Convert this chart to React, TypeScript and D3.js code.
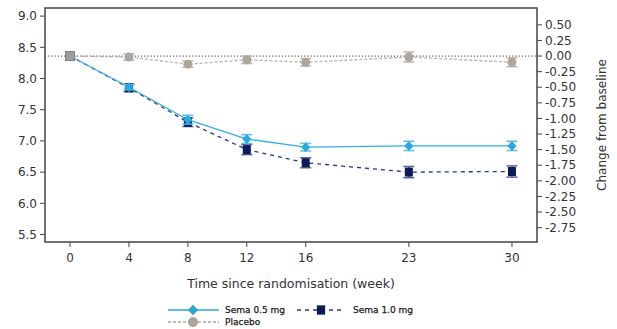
import React from 'react'
import * as d3 from 'd3'

// Weeks since randomisation
const weeks = [0, 4, 8, 12, 16, 23, 30]
// HbA1c (%) per arm
const sema05 = [8.36, 7.86, 7.34, 7.03, 6.90, 6.92, 6.92]
const sema05Err = [0, 0.04, 0.07, 0.07, 0.06, 0.075, 0.075]
const sema10 = [8.36, 7.85, 7.30, 6.86, 6.65, 6.50, 6.51]
const sema10Err = [0, 0.06, 0.07, 0.08, 0.08, 0.09, 0.09]
const placebo = [8.36, 8.345, 8.23, 8.30, 8.26, 8.345, 8.26]
const placeboErr = [0, 0.05, 0.05, 0.06, 0.06, 0.08, 0.07]
const baseline = 8.36

const leftTicks = [5.5, 6.0, 6.5, 7.0, 7.5, 8.0, 8.5, 9.0]
const rightTicks = [0.5, 0.25, 0, -0.25, -0.5, -0.75, -1.0, -1.25, -1.5, -1.75, -2.0, -2.25, -2.5, -2.75]

const W = 617
const H = 329
const margin = { top: 8, right: 80, bottom: 87, left: 45 }
const font = 'DejaVu Sans, Verdana, sans-serif'
const axisColor = '#444'

const CYAN = '#27a9e1'
const NAVY = '#0b1b5a'
const GREY = '#aca69f'

type Series = {
  name: string; vals: number[]; err: number[]
  color: string; lineColor: string; errColor: string; dash: string; marker: string
}

const series: Series[] = [
  { name: 'Placebo', vals: placebo, err: placeboErr, color: GREY, lineColor: '#b8b3ad', errColor: '#bbb6b0', dash: '3,2', marker: 'circle' },
  { name: 'Sema 1.0 mg', vals: sema10, err: sema10Err, color: NAVY, lineColor: '#27397a', errColor: '#56659a', dash: '4,4', marker: 'square' },
  { name: 'Sema 0.5 mg', vals: sema05, err: sema05Err, color: CYAN, lineColor: '#35ade3', errColor: '#5cc0ec', dash: '', marker: 'diamond' },
]

const Marker = ({ type, x, y, color }: { type: string; x: number; y: number; color: string }) => {
  if (type === 'square') return <rect x={x - 4} y={y - 4.5} width={8} height={9} fill={color} />
  if (type === 'circle') return <circle cx={x} cy={y} r={4.5} fill={color} />
  return <path d={`M${x},${y - 5}L${x + 4.5},${y}L${x},${y + 5}L${x - 4.5},${y}Z`} fill={color} />
}

const App = () => {
  const x0 = margin.left
  const x1 = W - margin.right
  const y0 = margin.top
  const y1 = H - margin.bottom

  const x = d3.scaleLinear().domain([-1.7, 31.7]).range([x0, x1])
  const y = d3.scaleLinear().domain([5.38, 9.13]).range([y1, y0])

  const line = d3.line<number>()
    .x((_, i) => x(weeks[i]))
    .y((d) => y(d))

  return (
    <svg width={W} height={H} style={{ display: 'block', position: 'absolute', left: 0, top: 0 }}>
      <rect width={W} height={H} fill="#fff" />

      {/* baseline */}
      <line x1={x0} x2={x1} y1={y(baseline)} y2={y(baseline)} stroke="#666" strokeWidth={1.2} strokeDasharray="1.2,2" />

      {/* series */}
      {series.map((s) => (
        <g key={s.name}>
          <path d={line(s.vals) || ''} fill="none" stroke={s.lineColor} strokeWidth={1.3} strokeDasharray={s.dash} />
          {s.vals.map((v, i) => (
            <g key={i}>
              {s.err[i] > 0 && (
                <g stroke={s.errColor} strokeWidth={1.5}>
                  <line x1={x(weeks[i])} x2={x(weeks[i])} y1={y(v - s.err[i])} y2={y(v + s.err[i])} />
                  <line x1={x(weeks[i]) - 5.5} x2={x(weeks[i]) + 5.5} y1={y(v - s.err[i])} y2={y(v - s.err[i])} />
                  <line x1={x(weeks[i]) - 5.5} x2={x(weeks[i]) + 5.5} y1={y(v + s.err[i])} y2={y(v + s.err[i])} />
                </g>
              )}
              <Marker type={s.marker} x={x(weeks[i])} y={y(v)} color={s.color} />
            </g>
          ))}
        </g>
      ))}

      {/* shared baseline point, drawn grey over the stacked markers */}
      <rect x={x(weeks[0]) - 4.5} y={y(baseline) - 4.5} width={9} height={9} fill="#a09c9a" stroke="#7d7f8e" strokeWidth={1} />

      {/* frame */}
      <rect x={x0} y={y0} width={x1 - x0} height={y1 - y0} fill="none" stroke={axisColor} strokeWidth={1.5} />

      {/* left axis */}
      {leftTicks.map((t) => (
        <g key={t} transform={`translate(${x0},${y(t)})`}>
          <line x1={-5} x2={0} stroke={axisColor} />
          <text x={-8} dy="0.35em" textAnchor="end" fontFamily={font} fontSize={12} fill="#333">{t.toFixed(1)}</text>
        </g>
      ))}

      {/* right axis: change from baseline */}
      {rightTicks.map((t) => (
        <g key={t} transform={`translate(${x1},${y(baseline + t)})`}>
          <line x1={0} x2={5} stroke={axisColor} />
          <text x={8} dy="0.35em" textAnchor="start" fontFamily={font} fontSize={12} fill="#333">
            {(t < 0 ? '-' : '') + Math.abs(t).toFixed(2)}
          </text>
        </g>
      ))}
      <text transform={`translate(${606},${(y0 + y1) / 2}) rotate(-90)`} textAnchor="middle" fontFamily={font} fontSize={12} fill="#333">
        Change from baseline
      </text>

      {/* bottom axis */}
      {weeks.map((w) => (
        <g key={w} transform={`translate(${x(w)},${y1})`}>
          <line y1={0} y2={5} stroke={axisColor} />
          <text y={20} textAnchor="middle" fontFamily={font} fontSize={12} fill="#333">{w}</text>
        </g>
      ))}
      <text x={(x0 + x1) / 2} y={288} textAnchor="middle" fontFamily={font} fontSize={12.5} fill="#333">
        Time since randomisation (week)
      </text>

      {/* legend */}
      <g fontFamily={font} fontSize={9} fill="#1a1a1a" stroke="#1a1a1a" strokeWidth={0.25}>
        <line x1={168} x2={219} y1={310} y2={310} stroke={CYAN} strokeWidth={1.3} />
        <Marker type="diamond" x={193} y={310} color={CYAN} />
        <text x={225} y={310} dy="0.35em">Sema 0.5 mg</text>

        <line x1={297} x2={345} y1={310} y2={310} stroke="#27397a" strokeWidth={1.3} strokeDasharray="4,4" />
        <Marker type="square" x={321} y={310} color={NAVY} />
        <text x={353} y={310} dy="0.35em">Sema 1.0 mg</text>

        <line x1={168} x2={219} y1={322} y2={322} stroke={GREY} strokeWidth={1.3} strokeDasharray="3,2" />
        <Marker type="circle" x={193} y={322} color={GREY} />
        <text x={225} y={322} dy="0.35em">Placebo</text>
      </g>
    </svg>
  )
}

export default App
